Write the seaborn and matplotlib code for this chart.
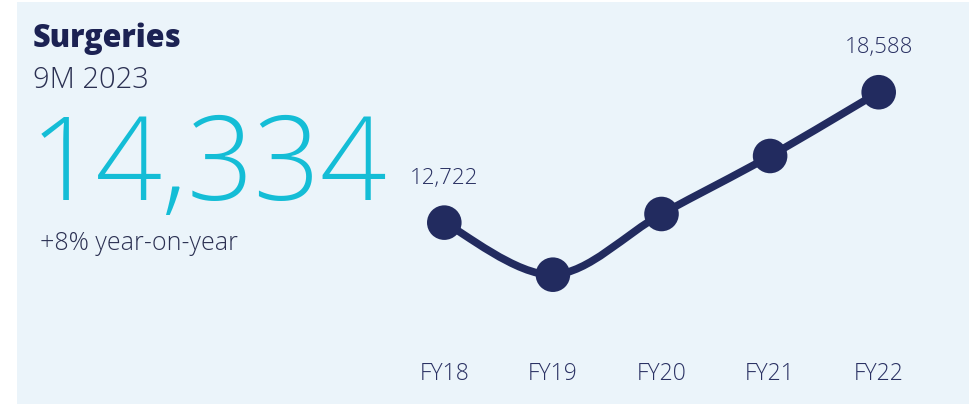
import numpy as np
import pandas as pd
import matplotlib
matplotlib.use("Agg")
import matplotlib.pyplot as plt
from matplotlib.patches import Rectangle, PathPatch
from matplotlib.path import Path
import seaborn as sns

# data
years = ["FY18", "FY19", "FY20", "FY21", "FY22"]
surgeries = [12722, 10380, 13110, 15720, 18588]
labelled = {"FY18": "12,722", "FY22": "18,588"}

headline_title = "Surgeries"
headline_period = "9M 2023"
headline_value = "14,334"
headline_change = "+8% year-on-year"

navy = "#222B5F"
text_navy = "#2A3163"
cyan = "#14BDD6"
panel = "#EBF4FA"

sns.set_theme(style="white")
plt.rcParams["font.family"] = ["Open Sans", "DejaVu Sans"]

fig = plt.figure(figsize=(9.73, 4.04), dpi=100)
fig.patch.set_facecolor("white")
fig.patches.append(Rectangle((17 / 973, 0), (969 - 17) / 973, 402 / 404,
                             transform=fig.transFigure, facecolor=panel,
                             edgecolor="none", zorder=-5))

# headline text block
fig.text(33 / 973, 0.884, headline_title, fontsize=22, fontweight="heavy",
         color="#1C2253", va="baseline", ha="left")
fig.text(33 / 973, 0.782, headline_period, fontsize=21, fontweight="light",
         color="#2B3052", va="baseline", ha="left")
fig.text(30 / 973, 0.505, headline_value, fontsize=84, fontweight="light",
         color=cyan, va="baseline", ha="left")
fig.text(40 / 973, 0.381, headline_change, fontsize=18, fontweight="light",
         color="#2B3052", va="baseline", ha="left")

# line chart
ax = fig.add_axes([390 / 973, 0.146, 543 / 973, 0.78])
ax.set_facecolor("none")
df = pd.DataFrame({"year": years, "value": surgeries})
df["x"] = np.arange(len(df))

# smooth curve through the points (Catmull-Rom as cubic beziers)
pts = df[["x", "value"]].to_numpy(dtype=float)
ext = np.vstack([pts[0], pts, pts[-1]])
verts = [tuple(pts[0])]
codes = [Path.MOVETO]
for i in range(len(pts) - 1):
    p0, p1, p2, p3 = ext[i], ext[i + 1], ext[i + 2], ext[i + 3]
    c1 = p1 + (p2 - p0) / 6
    c2 = p2 - (p3 - p1) / 6
    verts += [tuple(c1), tuple(c2), tuple(p2)]
    codes += [Path.CURVE4] * 3
ax.add_patch(PathPatch(Path(verts, codes), facecolor="none", edgecolor=navy,
                       lw=5.5, capstyle="round", joinstyle="round", zorder=2))

sns.scatterplot(data=df, x="x", y="value", s=620, color=navy,
                edgecolor="none", ax=ax, zorder=3, legend=False)

for _, row in df.iterrows():
    if row["year"] in labelled:
        ax.annotate(labelled[row["year"]], (row["x"], row["value"]),
                    xytext=(0, 32), textcoords="offset points",
                    ha="center", va="center", fontsize=16,
                    fontweight="light", color=text_navy)

ax.set_xlim(-0.5, 4.5)
ax.set_ylim(7216, 21392)
ax.set_xticks(df["x"])
ax.set_xticklabels(years, fontweight="light")
ax.set_yticks([])
ax.tick_params(axis="x", length=0, pad=12, labelsize=16.5, labelcolor=text_navy)
ax.set_xlabel("")
ax.set_ylabel("")
sns.despine(ax=ax, left=True, bottom=True)

fig.savefig("out.png", dpi=100, facecolor="white")
